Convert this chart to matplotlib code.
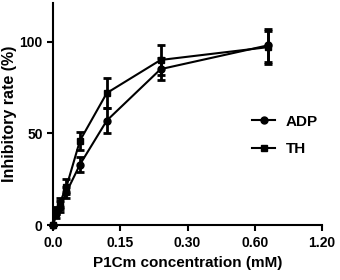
import numpy as np
import matplotlib
matplotlib.use("Agg")
import matplotlib.pyplot as plt
from matplotlib.lines import Line2D

conc = [0, 0.0075, 0.015, 0.03, 0.06, 0.12, 0.24, 0.72]
adp = [0, 6, 10, 18, 33, 57, 85, 98]
adp_err = [0, 2, 3, 3, 4, 7, 6, 9]
th = [0, 8, 12, 21, 46, 72, 90, 97]
th_err = [0, 2, 3, 4, 5, 8, 8, 9]
xticks = [0.0, 0.15, 0.30, 0.60, 1.20]
xticklabels = ["0.0", "0.15", "0.30", "0.60", "1.20"]
yticks = [0, 50, 100]

plt.rcParams['font.family'] = ['Liberation Sans', 'DejaVu Sans']
plt.rcParams['font.weight'] = 'bold'

bp = np.array(xticks)
seg = np.arange(len(bp), dtype=float)

def fwd(x):
    return np.interp(x, bp, seg)

def inv(y):
    return np.interp(y, seg, bp)

fig = plt.figure(figsize=(3.4, 2.8), dpi=100)
ax = fig.add_axes([0.156, 0.196, 0.791, 0.793])
ax.set_xscale('function', functions=(fwd, inv))

kw = dict(color='black', lw=1.5, capsize=3, capthick=2, elinewidth=2, markersize=5)
ax.errorbar(conc, adp, yerr=adp_err, marker='o', **kw)
ax.errorbar(conc, th, yerr=th_err, marker='s', **kw)

ax.set_xlim(0, 1.2)
ax.set_ylim(0, 121)
ax.set_xticks(xticks)
ax.set_xticklabels(xticklabels)
ax.set_yticks(yticks)
ax.minorticks_off()
for s in ['top', 'right']:
    ax.spines[s].set_visible(False)
for s in ['left', 'bottom']:
    ax.spines[s].set_linewidth(1.5)
ax.tick_params(direction='out', length=4, width=1.5, labelsize=10)
ax.set_xlabel('P1Cm concentration (mM)', fontsize=11, fontweight='bold', labelpad=5)
ax.set_ylabel('Inhibitory rate (%)', fontsize=11.5, fontweight='bold')
ax.yaxis.set_label_coords(-0.135, 0.5)
handles = [Line2D([], [], color='black', lw=1.5, marker='o', markersize=5, label='ADP'),
           Line2D([], [], color='black', lw=1.5, marker='s', markersize=5, label='TH')]
ax.legend(handles=handles, loc='upper left', bbox_to_anchor=(0.69, 0.56), frameon=False,
          fontsize=11, handlelength=1.5, handletextpad=0.7, labelspacing=0.9)
for l in ax.lines:
    l.set_clip_on(False)
fig.savefig('out.png', dpi=100)
